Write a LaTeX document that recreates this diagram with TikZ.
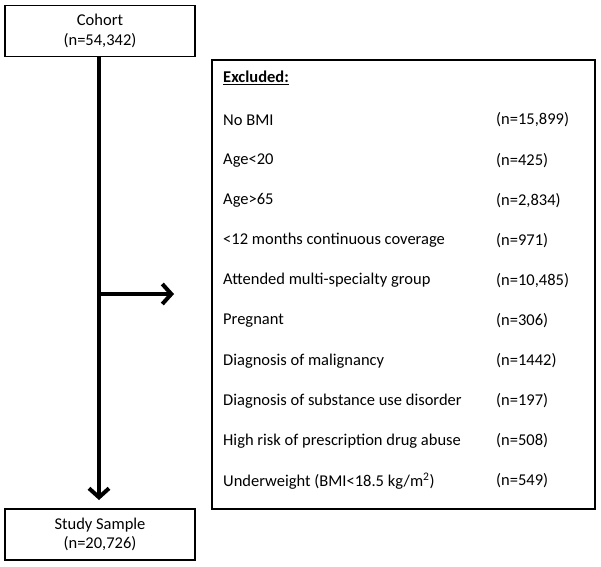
\documentclass[tikz,border=0pt]{standalone}
\usepackage{fontspec}
\setmainfont{Carlito}
\usetikzlibrary{arrows.meta}
\begin{document}
\begin{tikzpicture}[x=1pt,y=-1pt,
  flowbox/.style={draw, line width=1.6pt, minimum width=190pt, minimum height=51pt, align=center, font=\fontsize{16.5}{19.5}\selectfont, inner sep=0pt},
  item/.style={anchor=west, inner sep=0pt, font=\fontsize{16.5}{19.5}\selectfont},
  flowarrow/.style={line width=4pt, -{Straight Barb[length=9pt,width=20pt,line width=4pt]}}]
\useasboundingbox (0,0) rectangle (601,566);
\node[flowbox] (cohort) at (100,31) {Cohort\\(n=54,342)};
\node[flowbox] (study) at (100,534.5) {Study Sample\\(n=20,726)};
\node[draw, line width=1.6pt, minimum width=383pt, minimum height=449pt, inner sep=0pt] (excl) at (403.5,284.5) {};
\coordinate (branch) at (99,294);
\coordinate (armend) at (174,294);
\coordinate (mainend) at (99,500);
\draw[flowarrow] (cohort.south -| branch) -- (mainend);
\draw[flowarrow] (branch) -- (armend);
\node[item] (h) at (223,78) {\underline{\textbf{Excluded:}}};
\foreach \t/\n [count=\i] in {No BMI/(n=15{,}899), Age<20/(n=425), Age>65/(n=2{,}834), <12 months continuous coverage/(n=971), Attended multi-specialty group/(n=10{,}485), Pregnant/(n=306), Diagnosis of malignancy/(n=1442), Diagnosis of substance use disorder/(n=197), High risk of prescription drug abuse/(n=508), {Underweight (BMI<18.5 kg/m\textsuperscript{2})}/(n=549)}{
  \node[item] (l\i) at (223,{80+40.1*\i}) {\t};
  \node[item] (n\i) at (496,{80+40.1*\i}) {\n};
}
\end{tikzpicture}
\end{document}
